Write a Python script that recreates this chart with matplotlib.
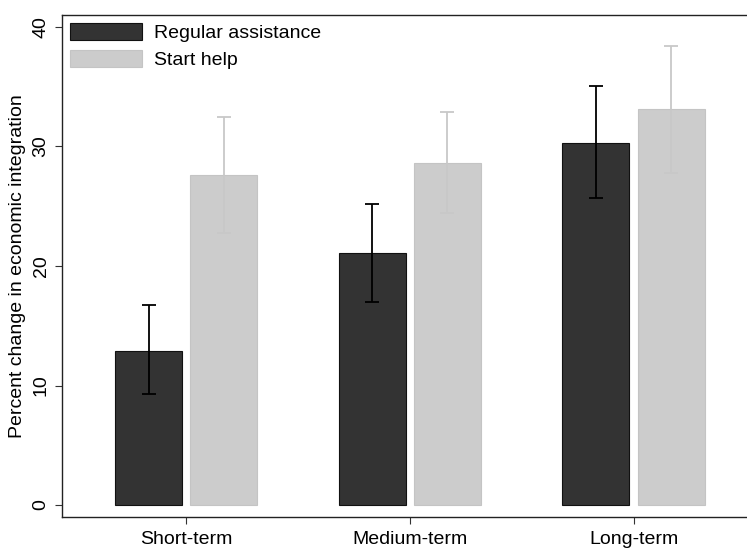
import matplotlib.pyplot as plt
import numpy as np

plt.rcParams['font.family'] = ['Liberation Sans', 'DejaVu Sans']

periods = ['Short-term', 'Medium-term', 'Long-term']
regular = [12.9, 21.1, 30.3]
regular_lo = [9.3, 17.0, 25.7]
regular_hi = [16.7, 25.2, 35.1]
start = [27.6, 28.6, 33.1]
start_lo = [22.8, 24.4, 27.8]
start_hi = [32.5, 32.9, 38.4]

x = np.arange(1, len(periods) + 1)
w = 0.30
off = 0.168

fig = plt.figure(figsize=(7.47, 5.5), dpi=100)
ax = fig.add_axes([0.083, 0.06, 0.9315, 0.9127])

reg_err = [np.array(regular) - np.array(regular_lo), np.array(regular_hi) - np.array(regular)]
st_err = [np.array(start) - np.array(start_lo), np.array(start_hi) - np.array(start)]

ax.bar(x - off, regular, w, color='#333333', edgecolor='#111111', linewidth=0.8,
       label='Regular assistance', zorder=2)
ax.bar(x + off, start, w, color='#cccccc', edgecolor='#c4c4c4', linewidth=0.8,
       label='Start help', zorder=2)
ax.errorbar(x - off, regular, yerr=reg_err, fmt='none', ecolor='black',
            elinewidth=1.3, capsize=5, capthick=1.3, zorder=3)
ax.errorbar(x + off, start, yerr=st_err, fmt='none', ecolor='#c8c8c8',
            elinewidth=1.3, capsize=5, capthick=1.3, zorder=3)

ax.set_xlim(0.444, 3.556)
ax.set_ylim(-1, 41)
ax.set_xticks(x)
ax.set_xticklabels(periods, fontsize=14)
ax.set_yticks([0, 10, 20, 30, 40])
ax.set_yticklabels(['0', '10', '20', '30', '40'], fontsize=14, rotation=90, va='center')
ax.set_ylabel('Percent change in economic integration', fontsize=14)
ax.yaxis.set_label_coords(-0.052, 0.5)
ax.tick_params(axis='both', length=5, color='#333333', pad=5)
ax.tick_params(axis='y', pad=4)
ax.spines['right'].set_visible(False)
for s in ['left', 'bottom', 'top']:
    ax.spines[s].set_color('#222222')
    ax.spines[s].set_linewidth(1.0)

ax.legend(loc='upper left', frameon=False, fontsize=14, handlelength=3.7,
          handleheight=1.0, labelspacing=0.4, borderaxespad=0.05, borderpad=0.35,
          handletextpad=0.65)

fig.savefig('out.png', dpi=100)
